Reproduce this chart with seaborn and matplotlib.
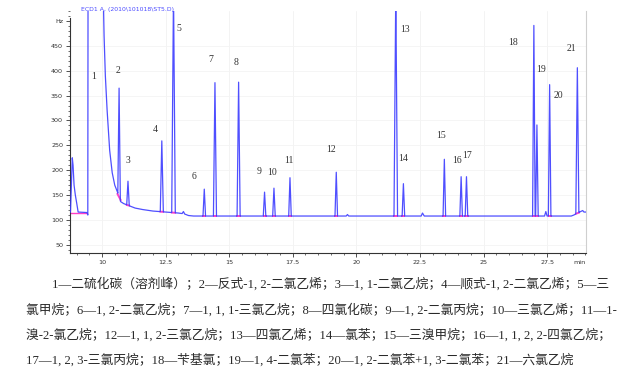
import numpy as np
import pandas as pd
import matplotlib
matplotlib.use("Agg")
import matplotlib.pyplot as plt
import seaborn as sns
from matplotlib.ticker import MultipleLocator, FixedLocator, FuncFormatter

# ---------------- data ----------------
# digitised non-peak part of the trace (solvent front, solvent tail, baseline bumps)
trace_t = [8.74, 8.76, 8.83, 8.86, 8.90, 8.95, 9.00, 9.06, 9.41, 9.44, 9.45,
           10.03, 10.08, 10.13, 10.20, 10.30, 10.40, 10.50, 10.60, 10.73, 10.85,
           11.10, 11.30, 11.60, 12.00, 12.50, 13.00, 13.15, 13.20, 13.25, 13.40,
           13.60, 19.60, 19.65, 19.70, 22.55, 22.60, 22.67, 27.40, 27.45, 27.50,
           28.45, 28.55, 28.78, 28.90, 28.95, 29.03]
trace_v = [115, 118, 225, 210, 170, 150, 135, 116, 115, 110, 600,
           600, 470, 390, 320, 240, 195, 170, 157, 137, 133,
           128, 124, 121, 118, 116, 114, 113, 117, 112, 109,
           108, 108, 111, 108, 108, 114, 108, 108, 117, 108,
           108, 110, 116, 119, 116, 116]

# peaks 2..21 : retention time (min), apex height (Hz)
peak_no = [2, 3, 4, 5, 6, 7, 8, 9, 10, 11, 12, 13, 14, 15, 16, 17, 18, 19, 20, 21]
peak_rt = [10.67, 11.02, 12.35, 12.81, 14.02, 14.44, 15.37, 16.39, 16.76, 17.39,
           19.21, 21.55, 21.85, 23.46, 24.12, 24.33, 26.98, 27.10, 27.60, 28.69]
peak_h = [365, 178, 259, 560, 162, 376, 377, 156, 164, 185,
          196, 560, 173, 222, 187, 187, 491, 291, 372, 406]
peak_hw = [0.05, 0.05, 0.06, 0.07, 0.05, 0.06, 0.06, 0.05, 0.05, 0.05,
           0.05, 0.07, 0.05, 0.05, 0.05, 0.05, 0.05, 0.05, 0.05, 0.06]

# peak number labels (time, signal)
label_no = list(range(1, 22))
label_t = [9.66, 10.64, 11.03, 12.11, 13.03, 13.62, 14.29, 15.26, 16.19, 16.67,
           17.33, 18.99, 21.92, 21.84, 23.33, 23.95, 24.36, 26.15, 27.25, 27.96, 28.44]
label_v = [389, 400, 219, 282, 485, 187, 423, 416, 197, 195,
           219, 241, 483, 224, 269, 219, 229, 457, 402, 351, 445]

y_ticks = [50, 100, 150, 200, 250, 300, 350, 400, 450, 500]
y_tick_labels = ["50", "100", "150", "200", "250", "300", "350", "400", "450", "Hz"]

caption = [
    "1—二硫化碳（溶剂峰）；2—反式-1, 2-二氯乙烯；3—1, 1-二氯乙烷；4—顺式-1, 2-二氯乙烯；5—三",
    "氯甲烷；6—1, 2-二氯乙烷；7—1, 1, 1-三氯乙烷；8—四氯化碳；9—1, 2-二氯丙烷；10—三氯乙烯；11—1-",
    "溴-2-氯乙烷；12—1, 1, 2-三氯乙烷；13—四氯乙烯；14—氯苯；15—三溴甲烷；16—1, 1, 2, 2-四氯乙烷；",
    "17—1, 2, 3-三氯丙烷；18—苄基氯；19—1, 4-二氯苯；20—1, 2-二氯苯+1, 3-二氯苯；21—六氯乙烷",
]

# ---------------- build trace ----------------
tt = np.array(trace_t, float)
tv = np.array(trace_v, float)
keep = np.ones(len(tt), bool)
for rt, hw in zip(peak_rt, peak_hw):
    keep &= ~((tt > rt - hw) & (tt < rt + hw))
pts_t = list(tt[keep]); pts_v = list(tv[keep])
bases = []
for rt, h, hw in zip(peak_rt, peak_h, peak_hw):
    bl = float(np.interp(rt - hw, tt, tv)); br = float(np.interp(rt + hw, tt, tv))
    pts_t += [rt - hw, rt, rt + hw]
    pts_v += [bl, h, br]
    bases.append((rt, hw, bl, br))
order = np.argsort(pts_t, kind="stable")
df = pd.DataFrame({"t": np.array(pts_t)[order], "v": np.array(pts_v)[order]})

# ---------------- figure ----------------
sns.set_theme(style="white")
plt.rcParams['font.family'] = ['DejaVu Sans', 'Noto Sans CJK SC']
W, H = 619, 377
fig = plt.figure(figsize=(W / 100, H / 100), dpi=100)
ax = fig.add_axes([70 / W, 1 - 253 / H, (586 - 70) / W, (253 - 11) / H])

ax.set_xlim(8.74, 29.03)
ax.set_ylim(33.7, 520)

for xv in np.arange(10, 29, 2.5):
    ax.axvline(xv, color="#f1f1f1", lw=0.6, zorder=0)
for yv in y_ticks[:-1]:
    ax.axhline(yv, color="#f4f4f4", lw=0.6, zorder=0)

# integration baseline marks (pink), drawn below the trace
pink = "#ff3fc8"
ax.plot([trace_t[0], trace_t[8]], [trace_v[0], trace_v[8]], color=pink, lw=1.0, zorder=2)
for rt, hw, bl, br in bases:
    ax.plot([rt - hw - 0.03, rt + hw + 0.03], [bl, br], color=pink, lw=1.4,
            zorder=2, solid_capstyle="butt")

sns.lineplot(data=df, x="t", y="v", ax=ax, color="#3c3cff", lw=0.9,
             sort=False, estimator=None, alpha=0.9, zorder=3)

for n, t, v in zip(label_no, label_t, label_v):
    ax.text(t, v, str(n), ha="center", va="center", fontsize=7,
            family="Liberation Serif", color="#333333", zorder=5)

ax.set_xlabel(""); ax.set_ylabel("")
ax.yaxis.set_major_locator(FixedLocator(y_ticks))
ax.set_yticklabels(y_tick_labels)
ax.yaxis.set_minor_locator(MultipleLocator(10))
ax.xaxis.set_major_locator(MultipleLocator(2.5))
ax.xaxis.set_minor_locator(MultipleLocator(0.5))
ax.xaxis.set_major_formatter(FuncFormatter(lambda v, p: f"{v:g}"))
ax.tick_params(axis="both", which="major", labelsize=4.6, labelcolor="#333333",
               length=3, width=0.6, color="#333333", direction="out", pad=2,
               left=True, bottom=True)
ax.tick_params(axis="both", which="minor", length=1.6, width=0.5, color="#333333",
               direction="out", left=True, bottom=True)
for s in ["left", "bottom"]:
    ax.spines[s].set_color("#333333"); ax.spines[s].set_linewidth(0.8)
ax.spines["left"].set_bounds(33.7, 506)
ax.spines["top"].set_visible(False)
ax.spines["right"].set_color("#cfcfcf"); ax.spines["right"].set_linewidth(0.8)

fig.text(81 / W, 1 - 10 / H, "ECD1 A, (2010\\101018\\ST5.D)", color="#4a4aff",
         fontsize=4.4, va="center", ha="left")
fig.text(580 / W, 1 - 263 / H, "min", fontsize=4.6, color="#333333",
         ha="center", va="center")

cap_x = [52, 26, 26, 26]
cap_y = [284, 310, 335, 360]
for s, x, y in zip(caption, cap_x, cap_y):
    fig.text(x / W, 1 - y / H, s, family=["Liberation Serif", "Noto Sans CJK SC"],
             fontsize=9.2, color="#2a2a2a", ha="left", va="center")

fig.savefig("out.png", dpi=100)
